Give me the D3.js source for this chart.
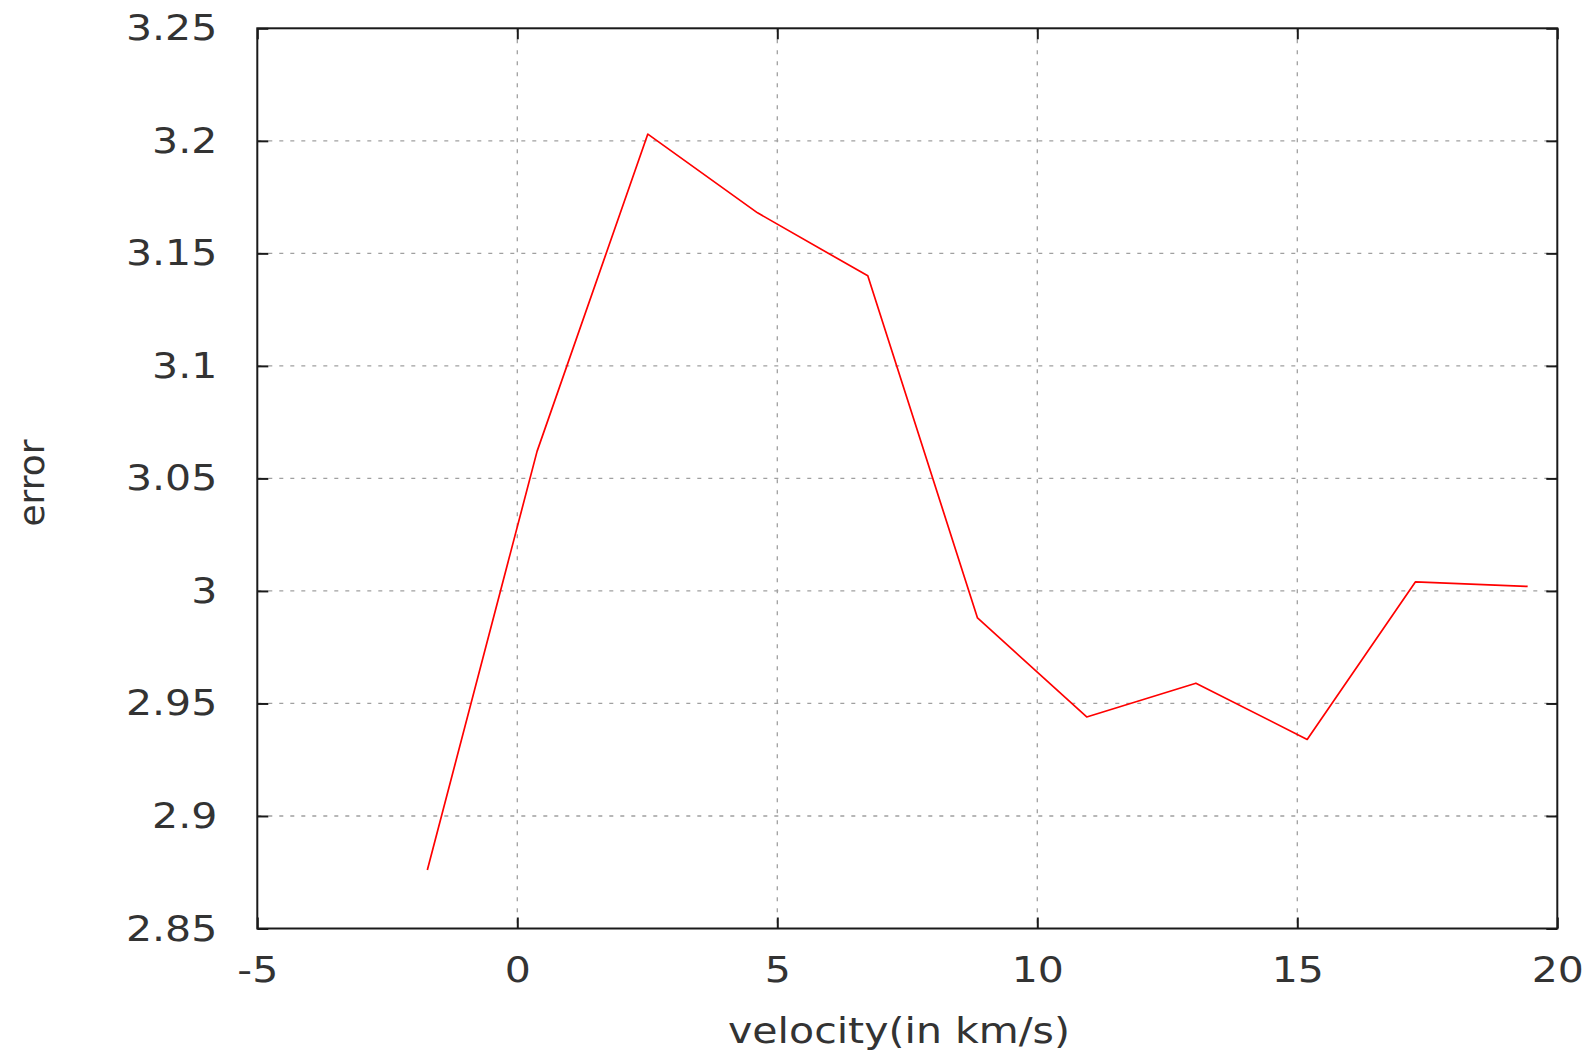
<!DOCTYPE html>
<html>
<head>
<meta charset="utf-8">
<script src="https://cdn.jsdelivr.net/npm/d3@7"></script>
<style>
  html, body { margin: 0; padding: 0; background: #fff; }
  svg { display: block; }
  text { font-family: "DejaVu Sans", sans-serif; fill: #333; }
</style>
</head>
<body>
<svg id="chart" width="1593" height="1054"></svg>
<script>
// Measured error against velocity
const velocity = [-1.73, 0.38, 2.51, 4.62, 6.74, 8.85, 10.95, 13.05, 15.19, 17.27, 19.43];
const errorValues = [2.876, 3.062, 3.203, 3.168, 3.140, 2.988, 2.944, 2.959, 2.934, 3.004, 3.002];

const xTicks = [-5, 0, 5, 10, 15, 20];
const xTickLabels = ["-5", "0", "5", "10", "15", "20"];
const yTicks = [2.85, 2.9, 2.95, 3.0, 3.05, 3.1, 3.15, 3.2, 3.25];
const yTickLabels = ["2.85", "2.9", "2.95", "3", "3.05", "3.1", "3.15", "3.2", "3.25"];

const xTitle = "velocity(in km/s)";
const yTitle = "error";

const svg = d3.select("#chart");
const plotLeft = 257.3, plotRight = 1557.3, plotTop = 28.3, plotBottom = 928.5;

const x = d3.scaleLinear().domain([-5, 20]).range([plotLeft, plotRight]);
const y = d3.scaleLinear().domain([2.85, 3.25]).range([plotBottom, plotTop]);

// dotted grid at interior ticks
const grid = svg.append("g")
  .attr("stroke", "#a0a0a0")
  .attr("stroke-width", 1.3)
  .attr("stroke-dasharray", "4,7");
grid.selectAll("line.gx")
  .data(xTicks.filter(d => d > -5 && d < 20))
  .join("line")
  .attr("class", "gx")
  .attr("x1", d => x(d)).attr("x2", d => x(d))
  .attr("y1", plotTop).attr("y2", plotBottom);
grid.selectAll("line.gy")
  .data(yTicks.filter(d => d > 2.85 && d < 3.25))
  .join("line")
  .attr("class", "gy")
  .attr("y1", d => y(d)).attr("y2", d => y(d))
  .attr("x1", plotLeft).attr("x2", plotRight);

// data line
const line = d3.line()
  .x((d, i) => x(velocity[i]))
  .y(d => y(d));
svg.append("path")
  .datum(errorValues)
  .attr("fill", "none")
  .attr("stroke", "#ff0000")
  .attr("stroke-width", 1.7)
  .attr("stroke-linejoin", "round")
  .attr("d", line);

// axes with inward ticks on all four sides
const tickLen = 11;
const fontSize = 36;

const xAxisB = d3.axisBottom(x).tickValues(xTicks)
  .tickFormat((d, i) => xTickLabels[i])
  .tickSizeInner(-tickLen).tickSizeOuter(0).tickPadding(28);
const xAxisT = d3.axisTop(x).tickValues(xTicks)
  .tickFormat("").tickSizeInner(-tickLen).tickSizeOuter(0);
const yAxisL = d3.axisLeft(y).tickValues(yTicks)
  .tickFormat((d, i) => yTickLabels[i])
  .tickSizeInner(-tickLen).tickSizeOuter(0).tickPadding(40);
const yAxisR = d3.axisRight(y).tickValues(yTicks)
  .tickFormat("").tickSizeInner(-tickLen).tickSizeOuter(0);

function styleAxis(g) {
  g.select(".domain").remove();
  g.selectAll(".tick line").attr("stroke", "#1a1a1a").attr("stroke-width", 2);
  g.selectAll(".tick text")
    .attr("class", "wide")
    .attr("font-size", fontSize)
    .attr("font-family", "DejaVu Sans, sans-serif")
    .attr("fill", "#333");
}

svg.append("g").attr("transform", `translate(0,${plotBottom})`).call(xAxisB).call(styleAxis);
svg.append("g").attr("transform", `translate(0,${plotTop})`).call(xAxisT).call(styleAxis);
svg.append("g").attr("transform", `translate(${plotLeft},0)`).call(yAxisL).call(styleAxis);
svg.append("g").attr("transform", `translate(${plotRight},0)`).call(yAxisR).call(styleAxis);

// plot border
svg.append("rect")
  .attr("x", plotLeft).attr("y", plotTop)
  .attr("width", plotRight - plotLeft).attr("height", plotBottom - plotTop)
  .attr("fill", "none")
  .attr("stroke", "#1a1a1a")
  .attr("stroke-width", 2);

// axis titles
svg.append("text")
  .attr("class", "wide")
  .attr("x", 899).attr("y", 1043)
  .attr("text-anchor", "middle")
  .attr("font-size", fontSize)
  .text(xTitle);

svg.append("text")
  .attr("transform", "translate(44,483) rotate(-90)")
  .attr("text-anchor", "middle")
  .attr("font-size", fontSize)
  .text(yTitle);

// horizontal labels are set in a broad, widely spaced face
svg.selectAll("text.wide").each(function () {
  const len = this.getComputedTextLength();
  d3.select(this)
    .attr("textLength", len * 1.14)
    .attr("lengthAdjust", "spacingAndGlyphs");
});
</script>
</body>
</html>
